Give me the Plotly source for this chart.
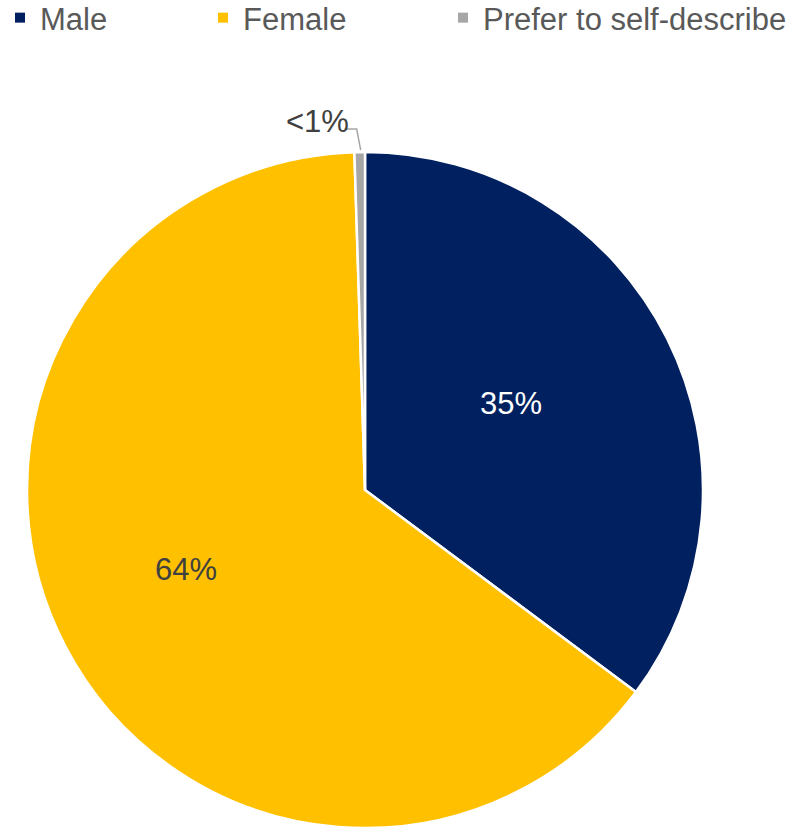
import math
import plotly.graph_objects as go

# Respondent gender split (percent of respondents)
labels = ["Male", "Female", "Prefer to self-describe"]
shares = [35.2, 64.3, 0.5]
colors = ["#002060", "#FFC000", "#A6A6A6"]
text_colors = ["#FFFFFF", "#404040", "#404040"]

W, H = 796, 828
M = dict(l=27, r=93, t=152, b=0)
FONT = "Arial, 'Liberation Sans', sans-serif"

# Legend entry left edges (px from the left of the page)
legend_left_px = [0, 203, 443]
legend_top_px = -9
# Radial position of the inside labels, as a fraction of the radius
label_radius = [0.5, 0.58]


def pct_label(v):
    return "<1%" if v < 1 else f"{round(v)}%"


slice_text = [pct_label(v) for v in shares]

fig = go.Figure()

fig.add_trace(go.Pie(
    labels=labels,
    values=shares,
    textinfo="none",
    marker=dict(colors=colors, line=dict(color="#FFFFFF", width=2.5)),
    sort=False,
    direction="clockwise",
    rotation=0,
    showlegend=False,
    hoverinfo="label+percent",
))

# Legend swatches: one legend per category so each can sit at its own offset
legend_ids = ["legend", "legend2", "legend3"]
for lab, col, lid in zip(labels, colors, legend_ids):
    fig.add_trace(go.Scatter(
        x=[None], y=[None], mode="markers", name=lab,
        marker=dict(symbol="square", size=10, color=col),
        legend=lid, hoverinfo="skip",
    ))

# Pie geometry in paper coordinates
pw = W - M["l"] - M["r"]
ph = H - M["t"] - M["b"]
r_px = min(pw, ph) / 2
total = sum(shares)


def rim_point(frac, k=1.0):
    theta = 2 * math.pi * frac
    return (0.5 + k * (r_px / pw) * math.sin(theta),
            0.5 + k * (r_px / ph) * math.cos(theta))


# Percentage labels inside the two large slices
start = 0.0
for i in range(2):
    mid = (start + shares[i] / 2) / total
    start += shares[i]
    lx, ly = rim_point(mid, label_radius[i])
    fig.add_annotation(
        x=lx, y=ly, xref="paper", yref="paper",
        text=slice_text[i], showarrow=False,
        xanchor="center", yanchor="middle",
        xshift=-5, yshift=11,
        font=dict(family=FONT, size=31, color=text_colors[i]),
    )

# Leader line and outside label for the smallest slice
x_rim, y_rim = rim_point((sum(shares[:2]) + shares[2] / 2) / total)
fig.add_shape(
    type="path", xref="paper", yref="paper",
    xsizemode="pixel", ysizemode="pixel",
    xanchor=x_rim, yanchor=y_rim,
    path="M 1 2 L -3 23 L -15 23",
    line=dict(color="#A6A6A6", width=1.5),
)
fig.add_annotation(
    x=x_rim, y=y_rim, xref="paper", yref="paper",
    text=slice_text[2], showarrow=False,
    xanchor="center", yanchor="middle",
    xshift=-42, yshift=31,
    font=dict(family=FONT, size=31, color=text_colors[2]),
)

legend_style = dict(
    orientation="h",
    xref="paper", yref="paper",
    y=1 + (M["t"] - legend_top_px) / ph,
    xanchor="left", yanchor="top",
    font=dict(family=FONT, size=31, color="#595959"),
    bgcolor="rgba(0,0,0,0)",
)
legends = {
    lid: dict(legend_style, x=(px - M["l"]) / pw)
    for lid, px in zip(legend_ids, legend_left_px)
}

fig.update_layout(
    width=W, height=H,
    margin=dict(**M, autoexpand=False),
    paper_bgcolor="#FFFFFF",
    plot_bgcolor="#FFFFFF",
    xaxis=dict(visible=False),
    yaxis=dict(visible=False),
    showlegend=True,
    **legends,
)

fig.write_html("out.html")
